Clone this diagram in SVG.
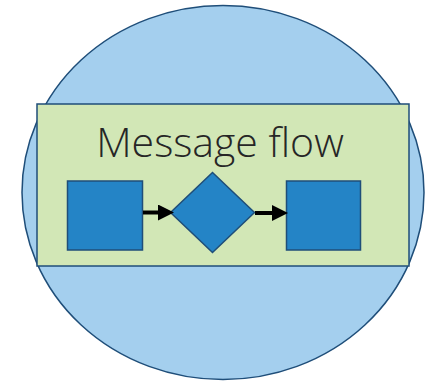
<svg xmlns="http://www.w3.org/2000/svg" width="433" height="381" viewBox="0 0 433 381">
<style>
.shape{fill:#2484c6;stroke:#1f4e79;stroke-width:1.5}
.conn{stroke:#000;stroke-width:4;fill:none}
</style>
<defs>
<marker id="ah" markerWidth="4" markerHeight="4" refX="1" refY="2" orient="auto" markerUnits="strokeWidth">
<path d="M0,0 L4,2 L0,4 z" fill="#000"/>
</marker>
</defs>
<g id="circle"><ellipse cx="223" cy="192.5" rx="201" ry="187" fill="#a4cfee" stroke="#1f4e79" stroke-width="1.5"/></g>
<g id="container">
<rect x="37" y="104" width="372" height="162" fill="#d2e7b6" stroke="#1f4e79" stroke-width="1.5"/>
<text x="220" y="157" font-family="Open Sans, Noto Sans, sans-serif" font-weight="300" font-size="41" fill="#262626" text-anchor="middle">Message flow</text>
</g>
<g id="box1"><rect class="shape" x="67.5" y="181" width="75" height="69"/></g>
<g id="diamond"><polygon class="shape" points="212.5,172.5 254.5,212.5 212.5,252.5 170.5,212.5"/></g>
<g id="box2"><rect class="shape" x="286.5" y="181" width="74" height="69"/></g>
<g id="connectors">
<line class="conn" x1="143" y1="212.5" x2="162" y2="212.5" marker-end="url(#ah)"/>
<line class="conn" x1="255" y1="213" x2="276" y2="213" marker-end="url(#ah)"/>
</g>
</svg>
